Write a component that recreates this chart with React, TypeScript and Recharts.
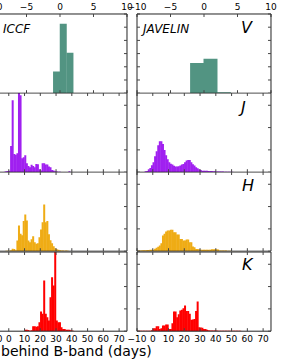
import React from 'react';
import { BarChart, Bar, XAxis, YAxis } from 'recharts';

// ---------- ticks ----------
const DAY_TICKS = [-10, 0, 10, 20, 30, 40, 50, 60, 70];
const V_TICKS = [-10, -5, 0, 5, 10];
const V_Y_TICKS = [0, 1, 2, 3, 4, 5, 6];
const NIR_Y_TICKS = [0, 1, 2, 3];

// ---------- V band (lag in days, relative) ----------
const V_ICCF_BINS = [-0.5, 0.5, 1.5];
const V_ICCF = [1.65, 5.27, 3.06];
const V_JAV_BINS = [-1, 1, 3];
const V_JAV = [2.28, 2.6, 0.08];

// ---------- ICCF (left) histograms, 1-day bins ----------
const J_ICCF_START = -3;
const J_ICCF = [0.02, 0.04, 0.05, 0.07, 1.17, 3.23, 0.81, 0.78, 0.85, 3.6, 3.45, 0.63, 0.67, 0.76, 0.4, 0.28, 0.22, 0.33, 0.28, 0.22, 0.37, 0.36, 0.13, 0.08, 0.4, 0.4, 0.35, 0.35, 0.26, 0.22, 0.1, 0.08, 0.04, 0.03, 0.02, 0.02, 0, 0, 0, 0, 0, 0.04];

const H_ICCF_START = -2;
const H_ICCF = [0.02, 0.02, 0.02, 0.04, 0.11, 0.1, 0.04, 0.48, 1.15, 0.78, 0.72, 1.35, 1.65, 1.38, 0.48, 0.4, 0.54, 0.67, 0.4, 0.33, 0.36, 0.63, 0.97, 1.3, 2.09, 1.3, 1.35, 0.76, 0.49, 0.36, 0.22, 0.13, 0.09, 0.07, 0.04, 0.03, 0.03, 0.02, 0.03, 0.02, 0.01];

const K_ICCF_START = 10;
const K_ICCF = [0.07, 0.07, 0.05, 0.02, 0.04, 0.22, 0.22, 0.2, 0.22, 0.4, 0.88, 0.78, 2.27, 0.78, 0.63, 0.48, 1.52, 2.42, 2.05, 3.8, 0.48, 0.4, 0.4, 0.18, 0.1, 0.1, 0.06, 0.06, 0.06, 0.04, 0.03, 0.01];

// ---------- JAVELIN (right) histograms, 1-day bins ----------
const J_JAV_START = -6;
const J_JAV = [0.01, 0.04, 0.05, 0.13, 0.19, 0.31, 0.45, 0.72, 0.94, 1.21, 1.39, 1.39, 1.26, 0.99, 0.76, 0.58, 0.45, 0.38, 0.35, 0.29, 0.26, 0.26, 0.27, 0.3, 0.34, 0.37, 0.45, 0.52, 0.55, 0.55, 0.45, 0.36, 0.3, 0.22, 0.18, 0.13, 0.1, 0.07, 0.06, 0.06, 0.06, 0.05, 0.05, 0.05, 0.04, 0.04, 0.03, 0.03, 0.03, 0.03, 0.03, 0.02, 0.02, 0.02, 0.02, 0.015, 0.015, 0.01, 0.01, 0.01, 0.01, 0.01];

const H_JAV_START = -10;
const H_JAV = [0.02, 0.03, 0.03, 0.04, 0.045, 0.045, 0.05, 0.05, 0.06, 0.06, 0.07, 0.11, 0.15, 0.2, 0.26, 0.36, 0.7, 0.78, 0.88, 0.93, 0.93, 0.96, 0.96, 0.85, 0.85, 0.75, 0.75, 0.55, 0.55, 0.48, 0.48, 0.52, 0.52, 0.4, 0.4, 0.21, 0.18, 0.1, 0.1, 0.09, 0.06, 0.06, 0.06, 0.06, 0.06, 0.06, 0.06, 0.09, 0.09, 0.09, 0.09, 0.08, 0.03, 0.03, 0.03, 0.03, 0.03, 0.02, 0.02, 0.015, 0.01, 0.01, 0.01, 0.01, 0.01, 0.01];

const K_JAV_START = -10;
const K_JAV = [0.02, 0.02, 0.02, 0.02, 0.02, 0.02, 0.02, 0.02, 0.02, 0.04, 0.13, 0.13, 0.22, 0.22, 0.1, 0.13, 0.26, 0.26, 0.3, 0.3, 0.1, 0.1, 0.36, 0.88, 0.88, 0.63, 0.76, 0.93, 0.96, 1.03, 1.15, 0.9, 0.9, 0.78, 0.51, 0.52, 0.55, 0.9, 1.33, 0.18, 0.16, 0.15, 0.1, 0.1, 0.07, 0.045, 0.03, 0.03, 0.03, 0.03, 0.03, 0.02, 0.02, 0.02, 0.02, 0.02, 0.02, 0.02, 0.02, 0.02, 0.02, 0.02, 0.02, 0.02, 0.02, 0.02];

// ---------- helpers ----------
const dayBins = (start: number, n: number) => Array.from({ length: n }, (_, i) => start + i + 0.5);
const rows = (bins: number[], vals: number[]) => bins.map((x, i) => ({ x, y: vals[i] }));

const COLORS = { V: '#529482', J: '#a020f0', H: '#efac15', K: '#ff0000' };

// ---------- layout ----------
const PW = 134;
const PH = 79.2;
const M = 14;
const COL_X = [-7, 137];
const ROW_Y = [14, 14 + PH, 14 + 2 * PH, 14 + 3 * PH];
const TOP_AXIS_H = 14;
const BOT_AXIS_H = 22;
const AXIS_COLOR = '#222';
const TICK_FONT = { fill: '#000', fontSize: 9, fontFamily: 'DejaVu Sans' };

const EmptyTick = () => <g />;
const fmt = (v: number) => String(v).replace('-', '\u2212');

type PanelProps = {
  data: { x: number; y: number }[];
  xDomain: [number, number];
  xTicks: number[];
  yDomain: [number, number];
  yTicks: number[];
  color: string;
  left: number;
  top: number;
  showTop?: boolean;
  showBottom?: boolean;
  gap?: number;
};

function Panel({ data, xDomain, xTicks, yDomain, yTicks, color, left, top, showTop, showBottom, gap = -0.25 }: PanelProps) {
  const topH = showTop ? TOP_AXIS_H : 0;
  const botH = showBottom ? BOT_AXIS_H : 0;
  const line = { stroke: AXIS_COLOR, strokeWidth: 1 };
  const tline = { stroke: '#444', strokeWidth: 1 };
  return (
    <div style={{ position: 'absolute', left: left - M, top: top - topH }}>
      <BarChart
        width={PW + 2 * M}
        height={PH + topH + botH}
        data={data}
        margin={{ top: 0, right: M, bottom: 0, left: M }}
        barCategoryGap={gap}
        barGap={0}
      >
        {showBottom ? (
          <XAxis
            xAxisId="b"
            dataKey="x"
            type="number"
            domain={xDomain}
            allowDataOverflow
            ticks={xTicks}
            interval={0}
            orientation="bottom"
            height={botH}
            tickSize={-3}
            tickMargin={7}
            tick={TICK_FONT}
            tickFormatter={fmt}
            axisLine={line}
            tickLine={tline}
          />
        ) : (
          <XAxis
            xAxisId="b"
            dataKey="x"
            type="number"
            domain={xDomain}
            allowDataOverflow
            ticks={xTicks}
            interval={0}
            orientation="bottom"
            mirror
            height={10}
            tickSize={3}
            tick={EmptyTick}
            axisLine={line}
            tickLine={tline}
          />
        )}
        {showTop ? (
          <XAxis
            xAxisId="t"
            dataKey="x"
            type="number"
            domain={xDomain}
            allowDataOverflow
            ticks={xTicks}
            interval={0}
            orientation="top"
            height={topH}
            tickSize={-3}
            tickMargin={7}
            tick={TICK_FONT}
            tickFormatter={fmt}
            axisLine={line}
            tickLine={tline}
          />
        ) : (
          <XAxis
            xAxisId="t"
            dataKey="x"
            type="number"
            domain={xDomain}
            allowDataOverflow
            ticks={xTicks}
            interval={0}
            orientation="top"
            mirror
            height={10}
            tickSize={3}
            tick={EmptyTick}
            axisLine={line}
            tickLine={tline}
          />
        )}
        <YAxis
          yAxisId="l"
          type="number"
          domain={yDomain}
          allowDataOverflow
          ticks={yTicks}
          interval={0}
          mirror
          width={10}
          tickSize={3}
          tick={EmptyTick}
          axisLine={line}
          tickLine={tline}
        />
        <YAxis
          yAxisId="r"
          orientation="right"
          type="number"
          domain={yDomain}
          allowDataOverflow
          ticks={yTicks}
          interval={0}
          mirror
          width={10}
          tickSize={3}
          tick={EmptyTick}
          axisLine={line}
          tickLine={tline}
        />
        <Bar xAxisId="b" yAxisId="l" dataKey="y" fill={color} isAnimationActive={false} />
      </BarChart>
    </div>
  );
}

export default function App() {
  const nirY: [number, number] = [0, 3.55];
  const vY: [number, number] = [0, 6];
  const dayX: [number, number] = [-10, 75];
  const vX: [number, number] = [-10, 10];
  return (
    <div style={{ position: 'absolute', left: 0, top: 0, width: 281, height: 360, overflow: 'hidden', background: '#fff' }}>
      {/* V row */}
      <Panel data={rows(V_ICCF_BINS, V_ICCF)} xDomain={vX} xTicks={V_TICKS} yDomain={vY} yTicks={V_Y_TICKS} color={COLORS.V} left={COL_X[0]} top={ROW_Y[0]} showTop />
      <Panel data={rows(V_JAV_BINS, V_JAV)} xDomain={vX} xTicks={V_TICKS} yDomain={vY} yTicks={V_Y_TICKS} color={COLORS.V} left={COL_X[1]} top={ROW_Y[0]} showTop gap={-0.5} />
      {/* J row */}
      <Panel data={rows(dayBins(J_ICCF_START, J_ICCF.length), J_ICCF)} xDomain={dayX} xTicks={DAY_TICKS} yDomain={nirY} yTicks={NIR_Y_TICKS} color={COLORS.J} left={COL_X[0]} top={ROW_Y[1]} />
      <Panel data={rows(dayBins(J_JAV_START, J_JAV.length), J_JAV)} xDomain={dayX} xTicks={DAY_TICKS} yDomain={nirY} yTicks={NIR_Y_TICKS} color={COLORS.J} left={COL_X[1]} top={ROW_Y[1]} />
      {/* H row */}
      <Panel data={rows(dayBins(H_ICCF_START, H_ICCF.length), H_ICCF)} xDomain={dayX} xTicks={DAY_TICKS} yDomain={nirY} yTicks={NIR_Y_TICKS} color={COLORS.H} left={COL_X[0]} top={ROW_Y[2]} />
      <Panel data={rows(dayBins(H_JAV_START, H_JAV.length), H_JAV)} xDomain={dayX} xTicks={DAY_TICKS} yDomain={nirY} yTicks={NIR_Y_TICKS} color={COLORS.H} left={COL_X[1]} top={ROW_Y[2]} />
      {/* K row */}
      <Panel data={rows(dayBins(K_ICCF_START, K_ICCF.length), K_ICCF)} xDomain={dayX} xTicks={DAY_TICKS} yDomain={nirY} yTicks={NIR_Y_TICKS} color={COLORS.K} left={COL_X[0]} top={ROW_Y[3]} showBottom />
      <Panel data={rows(dayBins(K_JAV_START, K_JAV.length), K_JAV)} xDomain={dayX} xTicks={DAY_TICKS} yDomain={nirY} yTicks={NIR_Y_TICKS} color={COLORS.K} left={COL_X[1]} top={ROW_Y[3]} showBottom />

      <svg width={281} height={360} style={{ position: 'absolute', left: 0, top: 0, pointerEvents: 'none' }}>
        <g fontFamily="DejaVu Sans" fill="#000">
          <text x={3} y={33} fontSize={12} fontStyle="italic">ICCF</text>
          <text x={143} y={33} fontSize={12} fontStyle="italic">JAVELIN</text>
          <text x={241} y={33} fontSize={16} fontStyle="italic">V</text>
          <text x={241} y={113} fontSize={16} fontStyle="italic">J</text>
          <text x={242} y={191} fontSize={16} fontStyle="italic">H</text>
          <text x={242} y={270} fontSize={16} fontStyle="italic">K</text>
          <text x={1} y={356} fontSize={14}>behind B-band (days)</text>
        </g>
      </svg>
    </div>
  );
}
